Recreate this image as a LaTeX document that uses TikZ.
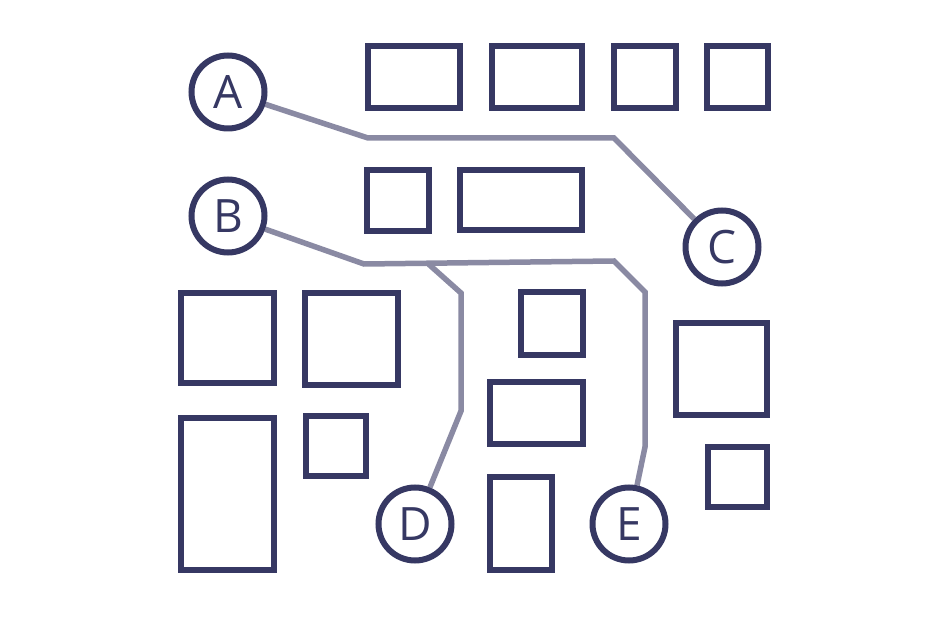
\documentclass[tikz,border=0pt]{standalone}
\usepackage{fontspec}
\setmainfont{Open Sans}
\definecolor{navy}{HTML}{363863}
\definecolor{wire}{HTML}{8A8AA3}
\pgfdeclarelayer{background}
\pgfsetlayers{background,main}
\begin{document}
\begin{tikzpicture}[x=1pt,y=-1pt,
  box/.style={draw=navy,line width=6pt},
  label/.style={circle,draw=navy,line width=6pt,fill=white,minimum size=73pt,inner sep=0pt,text=navy,font=\fontsize{46}{46}\selectfont},
  wirel/.style={draw=wire,line width=5.5pt}]
\useasboundingbox (0,0) rectangle (946,617);
% rectangles
\draw[box] (368,46) rectangle (460,108);
\draw[box] (492,46) rectangle (582,108);
\draw[box] (614,46) rectangle (676,108);
\draw[box] (707,46) rectangle (768,108);
\draw[box] (367,170) rectangle (429,231);
\draw[box] (460,170) rectangle (582,230);
\draw[box] (181,293) rectangle (274,383);
\draw[box] (305,293) rectangle (398,385);
\draw[box] (181,418) rectangle (274,570);
\draw[box] (306,416) rectangle (366,476);
\draw[box] (521,292) rectangle (583,355);
\draw[box] (490,382) rectangle (583,444);
\draw[box] (490,477) rectangle (552,570);
\draw[box] (676,323) rectangle (767,415);
\draw[box] (708,447) rectangle (767,507);
% circles
\node[label] (A) at (228,92) {A};
\node[label] (B) at (228,216) {B};
\node[label] (C) at (722,247) {C};
\node[label] (D) at (415,524) {D};
\node[label] (E) at (629,524) {E};
\coordinate (br) at (428,263.6);
% wires
\begin{pgfonlayer}{background}
\draw[wirel] (A) -- (368,138) -- (614,138) -- (C);
\draw[wirel] (B) -- (364,264) -- (614,261) -- (645,292) -- (645,447) -- (E);
\draw[wirel] (br) -- (461,293) -- (461,411) -- (D);
\end{pgfonlayer}
\end{tikzpicture}
\end{document}
